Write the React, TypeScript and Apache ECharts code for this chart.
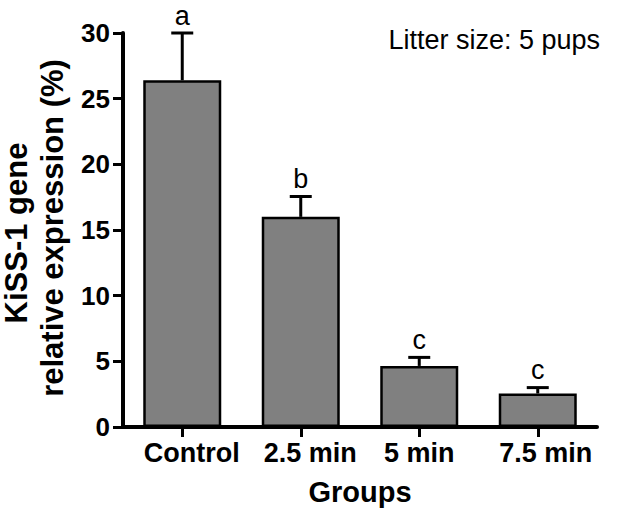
import React, { useEffect, useRef } from "react";
import * as echarts from "echarts";

const categories = ["Control", "2.5 min", "5 min", "7.5 min"];
const means = [26.4, 16.0, 4.65, 2.55];
const errors = [3.6, 1.55, 0.65, 0.45];
const letters = ["a", "b", "c", "c"];
const yTicks = { min: 0, max: 30, interval: 5 };
const yLabelLines = ["KiSS-1 gene", "relative expression (%)"];
const xTitle = "Groups";
const note = "Litter size: 5 pups";

// horizontal nudges of category labels (pixels), matching the original figure
const labelShift = [19, 19, 0, 16];

const FONT = '"Liberation Sans", Arial, Helvetica, sans-serif';

export default function App() {
  const ref = useRef<HTMLDivElement>(null);
  useEffect(() => {
    document.body.style.margin = "0";
    if (!ref.current) return;
    const chart = echarts.init(ref.current, undefined, { renderer: "svg" });
    const errData = categories.map((c, i) => [i, means[i], errors[i]]);
    const rich: Record<string, any> = {};
    categories.forEach((c, i) => {
      rich["c" + i] = {
        fontFamily: FONT,
        fontSize: 27,
        fontWeight: "bold",
        color: "#000",
        padding: [0, 0, 0, labelShift[i]],
      };
    });
    chart.setOption({
      animation: false,
      backgroundColor: "#ffffff",
      grid: { left: 123, right: 20, top: 33, bottom: 93, containLabel: false },
      xAxis: {
        type: "category",
        data: categories,
        name: xTitle,
        nameLocation: "middle",
        nameGap: 50,
        nameTextStyle: { fontFamily: FONT, fontSize: 29, fontWeight: "bold", color: "#000" },
        axisLine: { show: true, lineStyle: { color: "#000", width: 4 } },
        axisTick: { show: true, alignWithLabel: true, length: 10, lineStyle: { color: "#000", width: 3 } },
        axisLabel: {
          interval: 0,
          fontFamily: FONT,
          fontSize: 27,
          fontWeight: "bold",
          color: "#000",
          margin: 12,
          formatter: (v: string) => "{c" + categories.indexOf(v) + "|" + v + "}",
          rich,
        },
      },
      yAxis: {
        type: "value",
        min: yTicks.min,
        max: yTicks.max,
        interval: yTicks.interval,
        splitLine: { show: false },
        axisLine: { show: true, lineStyle: { color: "#000", width: 4 } },
        axisTick: { show: true, length: 10, lineStyle: { color: "#000", width: 3 } },
        axisLabel: { fontFamily: FONT, fontSize: 26, fontWeight: "bold", color: "#000", margin: 13 },
      },
      series: [
        {
          type: "bar",
          data: means,
          barWidth: 78,
          itemStyle: { color: "#808080", borderColor: "#000", borderWidth: 2.5 },
          z: 2,
        },
        {
          type: "custom",
          data: errData,
          z: 3,
          renderItem: (params: any, api: any) => {
            const i = api.value(0);
            const m = api.value(1);
            const e = api.value(2);
            const top = api.coord([i, m + e]);
            const base = api.coord([i, m]);
            return {
              type: "group",
              children: [
                {
                  type: "line",
                  shape: { x1: top[0], y1: base[1], x2: top[0], y2: top[1] },
                  style: { stroke: "#000", lineWidth: 3 },
                },
                {
                  type: "line",
                  shape: { x1: top[0] - 11, y1: top[1], x2: top[0] + 11, y2: top[1] },
                  style: { stroke: "#000", lineWidth: 3 },
                },
                {
                  type: "text",
                  x: top[0],
                  y: top[1] - 4,
                  style: {
                    text: letters[params.dataIndex],
                    fill: "#000",
                    fontFamily: FONT,
                    fontSize: 27,
                    align: "center",
                    verticalAlign: "bottom",
                  },
                },
              ],
            };
          },
        },
      ],
      graphic: [
        {
          type: "text",
          x: 600,
          y: 40,
          style: {
            text: note,
            fill: "#000",
            fontFamily: FONT,
            fontSize: 27,
            align: "right",
            verticalAlign: "middle",
          },
        },
        {
          type: "text",
          x: 16.6,
          y: 233,
          rotation: Math.PI / 2,
          style: {
            text: yLabelLines[0],
            fill: "#000",
            fontFamily: FONT,
            fontSize: 31,
            fontWeight: "bold",
            align: "center",
            verticalAlign: "middle",
          },
        },
        {
          type: "text",
          x: 52.6,
          y: 228,
          rotation: Math.PI / 2,
          style: {
            text: yLabelLines[1],
            fill: "#000",
            fontFamily: FONT,
            fontSize: 31,
            fontWeight: "bold",
            align: "center",
            verticalAlign: "middle",
          },
        },
      ],
    });
    return () => chart.dispose();
  }, []);
  return <div ref={ref} style={{ width: 617, height: 520 }} />;
}
